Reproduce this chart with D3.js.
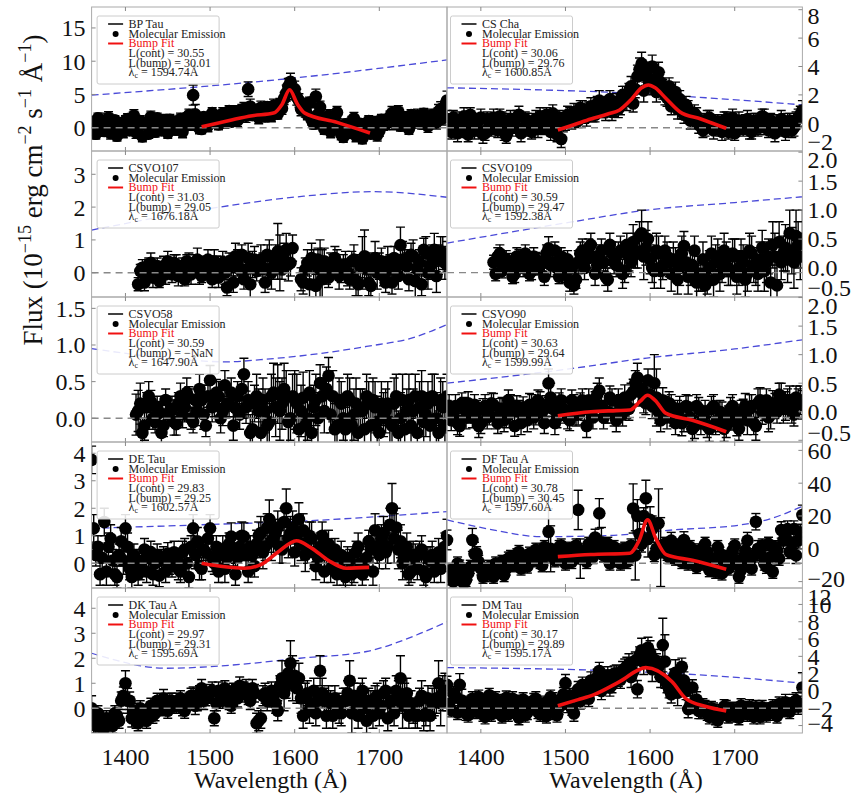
<!DOCTYPE html>
<html><head><meta charset="utf-8">
<script src="https://cdn.jsdelivr.net/npm/d3@7"></script>
<style>body{margin:0;background:#fff}svg{display:block}text{font-family:"Liberation Serif","Times New Roman",serif}</style>
</head><body><svg id="c" width="851" height="795"></svg>
<script>
// ---------------- DATA ----------------
const waves = [1360,1365,1370,1375,1380,1385,1390,1395,1400,1405,
1410,1415,1420,1425,1430,1435,1440,1445,1450,1455,
1460,1465,1470,1475,1480,1485,1490,1495,1500,1505,
1510,1515,1520,1525,1530,1535,1540,1545,1550,1555,
1560,1565,1570,1575,1580,1585,1590,1595,1600,1605,
1610,1615,1620,1625,1630,1635,1640,1645,1650,1655,
1660,1665,1670,1675,1680,1685,1690,1695,1700,1705,
1710,1715,1720,1725,1730,1735,1740,1745,1750,1755,
1760,1765,1770,1775,1780];
const wavesB = [1362.5,1367.5,1372.5,1377.5,1382.5,1387.5,1392.5,1397.5,1402.5,1407.5,
1412.5,1417.5,1422.5,1427.5,1432.5,1437.5,1442.5,1447.5,1452.5,1457.5,
1462.5,1467.5,1472.5,1477.5,1482.5,1487.5,1492.5,1497.5,1502.5,1507.5,
1512.5,1517.5,1522.5,1527.5,1532.5,1537.5,1542.5,1547.5,1552.5,1557.5,
1562.5,1567.5,1572.5,1577.5,1582.5,1587.5,1592.5,1597.5,1602.5,1607.5,
1612.5,1617.5,1622.5,1627.5,1632.5,1637.5,1642.5,1647.5,1652.5,1657.5,
1662.5,1667.5,1672.5,1677.5,1682.5,1687.5,1692.5,1697.5,1702.5,1707.5,
1712.5,1717.5,1722.5,1727.5,1732.5,1737.5,1742.5,1747.5,1752.5,1757.5,
1762.5,1767.5,1772.5,1777.5];
const xTicks = [1400,1500,1600,1700];

const bpTauFlux = [0.8,-0.9,1.2,-0.5,1.5,0.2,-1.2,0.6,1.0,-0.4,
1.8,0.3,-1.3,0.5,1.6,-0.6,0.2,1.1,-0.8,0.7,
-0.3,1.3,0.4,1.9,4.9,0.6,-0.2,1.2,0.8,1.7,
0.5,2.1,1.3,0.9,2.4,1.6,2.8,5.8,1.9,2.2,
3.0,1.7,2.6,3.3,2.1,2.9,5.2,6.9,5.8,4.1,
3.4,2.0,1.2,4.7,3.1,-0.2,1.8,0.7,2.3,-1.0,
0.5,-0.8,1.4,0.2,-1.6,0.3,-0.9,0.8,-0.5,0.4,
1.1,2.2,1.9,0.3,1.5,-0.2,1.0,1.8,0.6,1.3,
0.9,1.6,2.4,1.4,4.1];
const bpTauFluxB = [-0.3,1.4,0.1,0.9,-0.8,1.1,0.4,-0.6,1.3,0.2,
-0.7,1.0,0.6,-0.9,0.8,1.4,-0.4,0.3,1.2,-0.2,
0.9,-0.6,1.5,0.5,2.0,-0.1,1.6,0.3,2.2,1.0,
1.4,0.8,2.5,1.9,1.1,2.7,1.8,3.2,2.4,1.5,
2.3,3.1,1.8,2.7,3.6,4.4,6.2,5.5,4.6,2.8,
2.6,3.8,0.6,2.0,1.3,0.9,-0.6,1.5,0.2,-1.4,
-0.4,0.9,-1.2,0.6,-0.3,1.0,0.1,-1.1,1.2,0.5,
1.6,0.7,2.4,1.2,0.5,1.9,0.8,1.4,2.1,0.2,
1.9,0.8,2.8,3.1];
const bpTauErr = [0.9,0.8,1.0,0.8,0.9,0.7,0.8,0.9,0.8,0.7,
0.9,0.8,0.8,0.7,0.9,0.8,0.7,0.9,0.8,0.8,
0.8,0.9,0.7,0.9,1.5,0.8,0.7,0.9,0.8,0.9,
0.8,0.9,0.8,0.7,0.9,0.8,1.0,1.1,0.8,0.9,
1.0,0.8,0.9,1.0,0.8,0.9,1.2,1.3,1.2,1.0,
1.0,0.8,0.8,1.1,0.9,0.8,0.9,0.8,0.9,0.8,
0.8,0.8,0.9,0.7,0.8,0.8,0.7,0.9,0.8,0.8,
0.9,1.0,0.9,0.8,0.9,0.8,0.9,1.0,0.8,0.9,
0.9,1.0,1.1,1.0,1.4];

const csChaFlux = [0.3,-0.6,0.2,-0.3,0.5,-0.8,0.1,-0.4,0.4,-0.7,
0.0,0.4,-0.5,0.2,-0.9,0.3,-0.2,0.6,-0.4,0.1,
-0.6,0.3,0.5,-0.3,0.2,0.7,-0.8,-1.1,0.1,0.5,
0.8,0.2,1.0,0.4,1.2,0.6,1.6,1.0,1.3,0.8,
1.5,1.2,1.9,2.1,1.4,3.3,4.2,3.6,2.8,3.0,
3.6,2.4,1.8,1.2,2.2,1.7,0.6,1.0,0.3,0.5,
0.2,-0.3,0.4,-0.5,0.1,-0.6,0.3,-0.2,-0.7,0.2,
-0.4,0.3,-0.6,0.1,-0.3,0.4,-0.5,0.0,-0.4,0.3,
-0.6,0.2,-0.3,0.4,0.9];
const csChaFluxB = [-0.2,0.4,-0.7,0.1,-0.4,0.6,-0.5,0.2,-0.8,0.3,
-0.4,-0.1,0.5,-0.6,0.2,-0.3,0.4,-0.7,0.3,-0.2,
0.2,-0.4,-0.1,0.6,-0.6,0.1,0.4,0.0,0.6,0.2,
0.4,1.1,0.6,0.9,0.7,1.4,1.1,0.8,1.7,1.1,
1.0,2.0,1.6,2.6,2.4,3.8,2.3,3.2,4.0,2.2,
2.9,2.0,2.6,1.5,1.0,0.9,1.3,0.2,0.7,-0.1,
-0.5,0.3,-0.1,0.0,-0.4,0.2,-0.6,0.4,-0.3,-0.1,
0.1,-0.5,0.2,-0.3,0.5,-0.2,0.2,-0.7,0.1,-0.2,
0.1,-0.5,0.2,0.6];
const csChaErr = [0.6,0.5,0.6,0.5,0.6,0.5,0.6,0.5,0.6,0.5,
0.5,0.6,0.5,0.6,0.5,0.6,0.5,0.6,0.5,0.6,
0.5,0.6,0.6,0.5,0.6,0.6,0.5,0.6,0.6,0.6,
0.6,0.5,0.6,0.6,0.6,0.5,0.7,0.6,0.6,0.6,
0.6,0.6,0.7,0.7,0.6,0.8,0.8,0.7,0.8,0.7,
0.7,0.7,0.6,0.6,0.7,0.6,0.6,0.6,0.6,0.6,
0.5,0.6,0.5,0.6,0.5,0.6,0.5,0.6,0.5,0.6,
0.5,0.6,0.5,0.6,0.5,0.6,0.5,0.6,0.5,0.6,
0.6,0.5,0.6,0.6,0.7];

const csvo107Flux = [null,null,null,null,null,null,null,null,null,null,
null,-0.35,0.15,-0.1,0.3,0.05,-0.25,0.2,0.35,-0.05,
0.25,0.1,-0.2,0.3,0.15,0.4,-0.1,0.2,0.05,0.35,
-0.15,0.3,-0.45,0.2,0.5,0.1,-0.2,0.45,0.25,0.05,
0.4,-0.3,0.5,0.2,0.65,0.1,0.7,0.3,null,null,
-0.3,0.3,0.45,-0.4,0.1,0.35,-0.15,0.2,0.3,0.0,
0.25,-0.2,0.4,-0.35,0.3,0.1,-0.4,0.45,0.2,-0.1,
0.35,-0.3,0.15,0.84,0.3,-0.2,0.5,0.1,-0.35,0.6,
0.2,0.7,0.4,0.6,0.5];
const csvo107FluxB = [null,null,null,null,null,null,null,null,null,null,
null,0.05,-0.3,0.25,-0.15,0.2,0.1,-0.05,0.15,0.3,
-0.1,0.2,0.35,-0.05,0.3,0.0,0.25,0.4,-0.2,0.15,
0.2,0.0,0.35,-0.3,0.3,0.55,0.1,-0.35,0.4,0.2,
0.15,0.55,0.0,0.45,0.3,0.6,0.25,0.75,null,-0.2,
0.1,-0.35,0.25,0.4,-0.2,0.05,0.3,0.45,-0.1,0.25,
0.0,0.35,-0.25,0.2,0.5,-0.3,0.25,0.0,0.35,-0.3,
0.1,0.45,-0.1,0.4,0.2,0.55,-0.25,0.3,0.7,0.0,
0.45,-0.1,0.65,0.3];
const csvo107Err = [0,0,0,0,0,0,0,0,0,0,
0,0.2,0.25,0.2,0.3,0.25,0.2,0.3,0.3,0.25,
0.3,0.25,0.2,0.3,0.25,0.35,0.2,0.3,0.25,0.35,
0.3,0.35,0.25,0.3,0.4,0.3,0.3,0.45,0.4,0.3,
0.45,0.3,0.5,0.4,0.85,0.3,0.5,0.4,0,0.35,
0.35,0.4,0.45,0.35,0.9,0.4,0.3,0.35,0.4,0.3,
0.4,0.3,0.45,0.35,0.8,0.4,0.35,0.5,0.4,0.3,
0.45,0.35,0.4,0.55,0.4,0.35,0.5,0.4,0.35,0.5,
0.4,0.5,0.45,0.5,0.45];

const csvo109Flux = [null,null,null,null,null,null,null,null,null,null,
null,0.1,0.2,-0.05,0.15,0.05,-0.1,0.2,0.0,0.1,
-0.05,0.15,0.05,-0.15,0.34,0.1,0.0,0.2,-0.1,-0.25,
-0.3,0.1,0.3,0.15,0.4,-0.1,0.2,0.1,-0.2,0.25,
0.05,0.3,-0.05,0.2,0.45,0.25,0.6,0.35,0.15,-0.05,
0.25,0.05,0.2,-0.1,0.1,0.0,0.38,-0.15,0.05,-0.25,
-0.1,-0.3,0.0,-0.2,0.2,0.05,0.15,-0.05,0.2,0.0,
0.1,-0.1,0.25,0.0,0.15,-0.05,0.2,0.4,-0.3,0.1,
0.35,0.6,0.1,0.4,0.5];
const csvo109FluxB = [null,null,null,null,null,null,null,null,null,null,
null,-0.1,0.25,0.05,0.1,-0.15,0.2,0.05,0.25,-0.1,
0.2,0.0,0.1,0.25,0.05,0.3,-0.15,0.1,0.15,0.0,
-0.2,0.25,0.0,0.35,0.2,0.05,0.3,-0.15,0.4,0.1,
0.25,-0.1,0.4,0.1,0.3,0.55,0.2,0.5,0.0,0.3,
-0.05,0.3,0.1,0.15,-0.2,0.25,0.1,0.0,0.3,-0.1,
0.15,-0.2,0.25,0.1,-0.1,0.3,0.0,0.25,-0.15,0.2,
-0.2,0.3,0.05,-0.1,0.35,0.1,-0.25,0.2,0.45,0.25,
0.15,0.3,0.55,0.2];
const csvo109Err = [0,0,0,0,0,0,0,0,0,0,
0,0.12,0.15,0.12,0.15,0.12,0.15,0.12,0.15,0.12,
0.15,0.12,0.15,0.15,0.2,0.15,0.12,0.15,0.15,0.15,
0.15,0.2,0.2,0.15,0.2,0.2,0.2,0.15,0.2,0.2,
0.2,0.25,0.2,0.25,0.3,0.25,0.4,0.3,0.25,0.3,
0.3,0.25,0.25,0.3,0.25,0.3,0.25,0.3,0.25,0.3,
0.3,0.25,0.3,0.3,0.3,0.3,0.3,0.25,0.3,0.3,
0.3,0.3,0.3,0.3,0.3,0.35,0.3,0.4,0.35,0.3,
0.4,0.4,0.45,0.4,0.5];

const csvo58Flux = [null,null,null,null,null,null,null,null,null,null,
null,0.1,-0.2,0.15,0.23,-0.05,0.08,-0.1,0.05,0.12,
-0.08,0.3,0.15,0.28,-0.05,0.1,0.25,-0.1,0.52,0.2,
0.3,0.1,0.2,0.35,0.14,0.05,0.6,0.25,-0.15,0.3,
-0.2,0.1,-0.05,0.35,0.33,0.2,0.3,0.0,0.25,-0.15,
0.28,0.0,-0.2,0.25,0.48,0.1,0.58,0.3,-0.1,0.2,
-0.15,0.25,0.05,-0.2,0.1,0.3,-0.1,0.15,-0.2,0.05,
0.2,-0.1,0.3,0.0,-0.15,0.25,0.1,-0.2,0.3,0.05,
-0.1,0.25,-0.2,0.15,0.3];
const csvo58FluxB = [null,null,null,null,null,null,null,null,null,null,
0.05,0.2,-0.1,0.3,0.0,0.15,-0.2,0.25,0.1,-0.05,
0.2,0.05,0.35,0.0,0.25,0.4,0.05,0.3,0.15,0.35,
0.0,0.45,0.2,-0.1,0.3,0.4,0.15,-0.2,0.2,0.1,
0.25,-0.1,0.3,0.15,0.1,0.4,-0.05,0.3,0.2,0.1,
-0.1,0.35,0.15,0.0,0.3,0.4,0.05,-0.15,0.25,0.0,
0.3,-0.1,0.2,0.1,-0.15,0.2,0.25,-0.05,0.2,0.1,
-0.05,0.2,-0.2,0.25,0.1,-0.1,0.3,0.15,-0.05,0.2,
0.3,0.0,0.25,-0.1];
const csvo58Err = [0,0,0,0,0,0,0,0,0,0,
0.28,0.28,0.2,0.2,0.15,0.15,0.15,0.15,0.15,0.18,
0.15,0.18,0.2,0.15,0.15,0.2,0.2,0.15,0.2,0.18,
0.2,0.2,0.18,0.2,0.2,0.2,0.22,0.25,0.25,0.3,
0.3,0.3,0.3,0.4,0.4,0.35,0.35,0.3,0.4,0.35,
0.35,0.3,0.3,0.35,0.25,0.3,0.25,0.35,0.3,0.3,
0.3,0.3,0.35,0.3,0.3,0.3,0.3,0.35,0.3,0.3,
0.3,0.35,0.3,0.35,0.3,0.35,0.3,0.35,0.35,0.3,
0.3,0.35,0.3,0.35,0.3];

const csvo90Flux = [0.0,-0.15,0.1,-0.25,0.05,0.15,-0.1,0.0,-0.2,0.1,
-0.05,0.12,-0.2,0.05,-0.1,0.1,-0.25,0.0,0.08,-0.15,
0.1,-0.05,0.15,-0.2,0.5,0.05,-0.1,0.2,0.0,-0.15,
0.1,-0.05,0.2,-0.25,0.05,0.15,0.37,-0.1,0.0,0.2,
-0.15,0.1,0.25,0.05,0.35,0.6,0.4,0.15,0.3,0.5,
0.0,0.2,-0.1,0.1,-0.2,0.05,-0.15,0.08,-0.3,0.1,
-0.2,0.0,-0.3,0.1,-0.15,-0.05,-0.25,0.05,-0.1,-0.3,
0.0,-0.15,0.1,-0.25,0.2,0.05,-0.1,0.15,0.0,0.25,
0.1,0.2,-0.05,0.15,0.12];
const csvo90FluxB = [0.1,-0.05,-0.2,0.15,-0.1,0.0,0.12,-0.25,0.05,-0.1,
0.15,-0.1,0.05,-0.15,0.2,0.0,0.1,-0.2,-0.05,0.12,
-0.1,0.2,0.0,0.1,0.25,-0.2,0.15,0.05,-0.1,0.2,
-0.05,0.15,0.05,0.2,-0.1,0.3,0.1,0.0,0.25,-0.05,
0.2,-0.05,0.1,0.3,0.5,0.35,0.2,0.55,0.1,0.25,
-0.15,0.05,0.15,-0.05,0.0,-0.2,0.1,-0.1,-0.25,0.05,
-0.1,-0.25,0.05,-0.2,0.0,-0.3,-0.1,0.1,-0.2,0.0,
0.1,0.05,-0.2,0.15,0.0,0.2,-0.05,0.1,0.3,0.05,
0.15,0.05,0.25,0.2];
const csvo90Err = [0.2,0.18,0.2,0.18,0.2,0.2,0.18,0.2,0.18,0.2,
0.18,0.2,0.18,0.2,0.18,0.2,0.18,0.2,0.18,0.2,
0.2,0.18,0.2,0.18,0.25,0.2,0.18,0.2,0.2,0.18,
0.2,0.18,0.2,0.2,0.2,0.2,0.22,0.2,0.2,0.2,
0.2,0.2,0.22,0.2,0.22,0.25,0.22,0.2,0.22,0.5,
0.2,0.22,0.2,0.2,0.2,0.22,0.2,0.2,0.22,0.2,
0.2,0.2,0.22,0.2,0.2,0.22,0.2,0.2,0.22,0.2,
0.22,0.25,0.2,0.25,0.22,0.2,0.25,0.22,0.2,0.25,
0.25,0.25,0.2,0.25,0.25];

const deTauFlux = [3.76,0.3,-0.4,1.5,0.6,0.1,-0.5,0.8,1.27,-0.2,
0.3,-0.4,0.1,-0.3,0.4,0.0,-0.45,0.2,0.35,-0.1,
0.1,-0.3,0.5,-0.5,1.27,0.8,-0.2,0.4,1.27,0.0,
-0.3,0.5,0.2,0.97,-0.4,0.6,0.97,-0.3,0.3,0.7,
1.1,0.6,1.6,0.9,1.3,0.5,2.0,1.1,0.4,1.6,
1.2,0.5,0.9,-0.1,0.6,-0.3,0.7,0.2,-0.4,0.3,
-0.5,0.1,-0.3,0.6,-0.4,0.2,0.5,1.2,0.3,1.1,
0.6,2.0,1.3,0.8,0.2,-0.4,0.3,-0.2,0.5,-0.5,
0.1,-0.3,0.4,0.2,1.0];
const deTauFluxB = [1.27,0.6,0.2,-0.3,0.9,-0.4,0.3,0.1,0.6,-0.5,
0.1,-0.2,0.5,0.2,-0.4,0.3,0.1,-0.3,0.0,0.4,
-0.2,0.4,0.0,0.6,0.3,-0.1,0.5,0.9,0.2,0.6,
0.3,-0.2,0.7,0.4,0.2,1.0,0.3,0.6,-0.1,1.0,
0.4,1.3,0.8,1.1,0.6,1.5,0.9,1.3,1.0,0.7,
0.3,1.0,0.4,0.2,1.0,0.4,-0.2,0.5,0.0,-0.3,
0.2,-0.4,0.4,0.0,-0.2,0.8,-0.3,0.6,0.9,0.4,
1.4,0.9,0.5,0.0,0.6,-0.3,0.2,0.4,-0.3,0.2,
0.3,0.0,-0.2,0.6];
const deTauErr = [0.5,0.4,0.4,0.5,0.5,0.4,0.4,0.5,0.5,0.4,
0.4,0.4,0.4,0.4,0.4,0.4,0.4,0.4,0.4,0.4,
0.4,0.4,0.4,0.4,0.5,0.5,0.4,0.4,0.5,0.4,
0.4,0.5,0.4,0.5,0.4,0.5,0.5,0.4,0.4,0.5,
0.6,0.5,0.7,0.5,0.6,0.5,0.7,0.6,0.5,0.6,
0.6,0.5,0.6,0.5,0.5,0.4,0.5,0.4,0.4,0.5,
0.4,0.4,0.4,0.5,0.4,0.4,0.5,0.6,0.5,0.6,
0.6,0.9,0.7,0.6,0.5,0.4,0.5,0.4,0.5,0.4,
0.5,0.4,0.5,0.5,0.6];

const dfTauFlux = [5.4,-13,-18,-10.9,-21,-15,5.4,-2.7,-12,-16,
-11,-17,-14,-8,-12,-5,-9,-2,-7,-10.8,
-4,-0.6,-8,1,10.4,-3,-6,2,-9,0,
-5,23.7,-2,-8,1,6.9,21.6,-4,3,-7,
-2,-9,0,-6,24.6,20,3,30.8,17.6,-3.8,
15.5,1,-3,5,-6,0,5.4,-9,-2,-11,
-4,3,-13,-7,1,-15,-5,-10,2,-17,
-6,5,-12,16.5,-3,-9,3,-14,-1,11.5,
8,-2,12,5,20.6];
const dfTauFluxB = [-16,-20,-9,-14,-19,-11,-3,-8,-17,-13,
-15,-9,-12,-16,-6,-10,-4,-12,-6,-3,
-7,-2,-10,-4,0,-7,1,-5,-1,-8,
2,-6,-1,3,-5,0,4,-2,-9,1,
-5,-1,-8,2,-4,9,20,6,12,0,
-2,3,-5,-1,2,-8,-3,1,-6,-1,
-9,-2,-6,-14,-3,-8,-12,-1,-7,-13,
-1,-8,-4,0,2,-11,-5,1,-6,5,
12,3,-4,10];
const dfTauErr = [6,4,4,4,4,4,7,4,4,4,
4,4,4,4,4,4,4,4,4,4,
4,4,4,4,14,4,4,4,4,4,
4,12,4,4,4,5,9,4,4,4,
4,4,4,4,15,10,5,11,8,4,
21,4,4,5,4,4,5,4,4,4,
4,4,4,4,4,4,4,4,4,4,
4,5,4,5,4,4,4,4,4,5,
5,4,5,5,6];

const dkTauFlux = [0.0,-0.7,-0.4,-0.8,-0.5,-0.7,-0.3,0.3,1.0,0.3,
-0.1,-0.6,-0.3,-0.5,0.1,-0.2,0.2,0.4,-0.1,0.3,
0.1,0.4,-0.1,0.3,0.5,0.2,0.8,0.4,0.6,-0.4,
0.7,0.3,0.5,0.1,0.6,0.9,0.7,0.5,0.8,-0.6,
-0.4,0.6,0.4,0.5,-0.1,1.2,0.9,1.8,1.3,1.2,
-0.3,0.6,0.2,-0.2,1.5,0.3,0.4,-0.3,0.1,-0.2,
0.3,1.1,0.5,-0.3,0.7,-0.5,0.2,0.4,-0.2,0.6,
-0.4,0.3,0.7,1.2,0.4,-0.3,-0.1,-0.3,0.5,-0.2,
-0.3,0.3,1.0,0.6,0.5];
const dkTauFluxB = [-0.5,-0.2,-0.8,-0.4,-0.6,-0.2,-0.5,0.5,0.3,-0.4,
-0.5,0.0,-0.4,-0.2,-0.3,0.3,0.0,0.1,0.3,0.1,
0.3,0.0,0.2,0.5,0.1,0.6,0.3,0.5,0.7,0.2,
0.5,0.8,0.3,0.7,0.4,0.6,0.8,0.3,0.6,-0.5,
0.5,0.3,0.7,0.2,0.9,0.6,1.4,1.2,0.8,0.4,
0.5,-0.1,0.7,0.3,0.6,-0.3,0.2,0.4,-0.1,0.3,
0.6,-0.2,0.2,0.5,0.0,0.3,-0.3,0.5,0.1,0.7,
0.2,-0.2,0.5,0.1,0.6,0.2,-0.3,0.3,-0.3,0.4,
0.2,0.4,0.2,0.7];
const dkTauErr = [0.5,0.3,0.3,0.3,0.3,0.3,0.3,0.35,0.5,0.35,
0.3,0.3,0.3,0.3,0.3,0.3,0.3,0.35,0.3,0.3,
0.3,0.3,0.3,0.3,0.35,0.3,0.35,0.3,0.35,0.3,
0.35,0.3,0.35,0.3,0.35,0.35,0.35,0.35,0.35,0.4,
0.4,0.4,0.35,0.4,0.4,0.7,0.5,0.9,0.6,0.6,
0.5,0.5,0.5,0.5,0.6,0.5,0.5,0.5,0.5,0.5,
0.5,0.8,0.5,0.5,0.5,0.5,0.5,0.5,0.5,0.5,
0.5,0.5,0.6,0.9,0.6,0.5,0.5,0.5,0.6,0.5,
0.6,0.6,0.9,0.7,0.6];

const dmTauFlux = [0.7,-2.2,-0.6,0.7,-1.8,-2.8,-0.9,-2.4,-1.2,-3.0,
-0.5,-2.1,-1.5,-2.9,-0.8,-2.3,-1.6,-3.1,-1.0,-2.5,
-1.8,-0.9,-2.7,-1.4,-2.2,-1.0,-2.8,-1.3,0.9,-0.5,
-2.6,0.2,0.7,-0.4,1.2,0.4,2.3,1.0,1.8,0.7,
2.0,1.3,2.6,3.1,2.2,0.2,4.7,3.9,4.4,3.6,
2.8,5.3,0.8,-0.4,2.1,0.8,1.2,-2.1,0.4,-1.0,
-2.4,-1.9,-3.0,-2.2,-3.4,-2.6,-1.9,-2.8,-2.3,-3.1,
-2.0,-2.7,-2.4,-1.9,-3.0,-2.2,-2.6,-1.8,-2.9,-2.1,
-1.3,-2.4,-1.3,-1.8,0.4];
const dmTauFluxB = [-1.5,-0.3,-2.5,-1.1,-2.6,-1.4,-2.2,-0.7,-2.7,-1.6,
-2.7,-0.9,-2.4,-1.2,-2.7,-0.9,-2.0,-1.3,-2.8,-1.5,
-1.1,-2.4,-1.7,-2.9,-0.7,-2.5,-1.9,-0.4,-1.5,-2.0,
-0.6,-1.2,0.3,-0.9,0.6,1.6,0.0,1.5,0.4,2.0,
1.5,2.4,2.8,1.6,3.5,4.1,3.3,5.0,2.5,3.1,
1.6,3.4,0.2,1.5,-0.2,2.8,0.0,-1.6,-1.5,-2.3,
-1.7,-2.6,-2.0,-3.1,-2.4,-1.8,-2.9,-2.1,-2.7,-1.7,
-2.4,-1.8,-3.0,-2.5,-1.9,-2.8,-2.2,-2.6,-1.5,-2.2,
-2.0,-1.6,-1.1,-1.5];
const dmTauErr = [1.0,0.8,0.8,1.3,0.8,0.8,0.8,0.8,0.8,0.8,
0.8,0.8,0.8,0.8,0.8,0.8,0.8,0.8,0.8,0.8,
0.8,0.8,0.8,0.8,0.8,0.8,0.8,0.8,1.0,0.8,
0.9,0.9,0.9,0.9,1.0,0.9,1.0,0.9,1.0,0.9,
1.0,1.0,1.1,1.2,1.0,1.0,1.4,1.2,1.4,1.2,
1.2,3.1,1.0,1.0,1.5,1.0,1.0,1.0,0.9,0.9,
0.8,0.8,0.8,0.8,0.8,0.8,0.8,0.8,0.8,0.8,
0.8,0.8,0.8,0.8,0.8,0.8,0.8,0.8,0.8,0.8,
0.9,0.8,0.9,0.9,1.7];

// bump fits [wavelength, flux]
const bpTauBump = [[1490,0.15],[1510,0.7],[1530,1.3],[1550,1.8],[1575,2.2],[1585,3.5],[1594,5.7],[1603,3.6],[1612,2.2],[1650,0.8],[1689,-0.8]];
const csChaBump = [[1491,-0.47],[1510,-0.1],[1530,0.3],[1550,0.65],[1564,0.94],[1578,1.7],[1590,2.5],[1598,2.7],[1606,2.5],[1618,1.8],[1635,0.82],[1660,0.3],[1690,-0.35]];
const csvo90Bump = [[1491,-0.07],[1530,0.0],[1560,0.02],[1576,0.03],[1588,0.18],[1597,0.29],[1606,0.2],[1619,-0.03],[1650,-0.15],[1690,-0.35]];
const deTauBump = [[1490,0.0],[1515,-0.12],[1541,-0.18],[1560,-0.05],[1580,0.4],[1602,0.82],[1620,0.55],[1640,0.1],[1661,-0.18],[1688,-0.15]];
const dfTauBump = [[1491,-4.8],[1530,-3.5],[1576,-2.7],[1587,5],[1597,17.6],[1607,6],[1619,-3.6],[1650,-7],[1690,-12.5]];
const dmTauBump = [[1491,-1.7],[1515,-1.0],[1533,-0.46],[1564,1.07],[1595,2.7],[1626,1.07],[1642,-0.85],[1666,-1.8],[1690,-2.3]];

// continuum (blue dashed) [wavelength, flux]
const bpTauCont = [[1360,4.9],[1594,7.4],[1780,10.2]];
const csChaCont = [[1360,2.5],[1500,2.3],[1548,2.2],[1666,1.8],[1780,1.3]];
const csvo107Cont = [[1360,1.3],[1511,2.0],[1606,2.32],[1693,2.47],[1780,2.3]];
const csvo109Cont = [[1360,0.43],[1509,0.8],[1596,1.0],[1700,1.13],[1780,1.23]];
const csvo58Cont = [[1360,0.95],[1450,0.82],[1520,0.77],[1560,0.8],[1606,0.85],[1685,0.98],[1740,1.1],[1780,1.28]];
const csvo90Cont = [[1360,0.5],[1509,0.76],[1596,0.94],[1700,1.1],[1780,1.26]];
const deTauCont = [[1360,1.27],[1490,1.4],[1632,1.57],[1700,1.7],[1780,1.88]];
const dfTauCont = [[1360,17.6],[1420,11],[1470,7.4],[1548,8],[1627,11.5],[1706,14.5],[1740,18],[1779,25.7]];
const dkTauCont = [[1360,2.2],[1449,1.6],[1527,1.73],[1606,2.0],[1685,2.27],[1744,2.93],[1780,3.46]];
const dmTauCont = [[1360,2.7],[1590,2.2],[1668,1.8],[1780,0.9]];

const names = ["BP Tau","CS Cha","CSVO107","CSVO109","CSVO58","CSVO90","DE Tau","DF Tau A","DK Tau A","DM Tau"];
const lCont = ["30.55","30.06","31.03","30.59","30.59","30.63","29.83","30.78","29.97","30.17"];
const lBump = ["30.01","29.76","29.05","29.47","\u2212NaN","29.64","29.25","30.45","29.31","29.89"];
const lamC = ["1594.74","1600.85","1676.18","1592.38","1647.90","1599.99","1602.57","1597.60","1595.69","1595.17"];
const yDomains = [[-3.5,18.15],[-1.95,8.19],[-0.74,3.71],[-0.5,2.02],[-0.324,1.655],[-0.53,2.01],[-0.9,4.41],[-23.9,65.1],[-0.99,4.81],[-4.86,11.9]];
const yTicks = [[0,5,10,15],[-2,0,2,4,6,8],[0,1,2,3],[-0.5,0,0.5,1,1.5,2],[0,0.5,1,1.5],[-0.5,0,0.5,1,1.5,2],[0,1,2,3,4],[-20,0,20,40,60],[0,1,2,3,4],[-4,-2,0,2,4,6,8,10,12]];
const tickFmt = ["d","d","d",".1f",".1f",".1f","d","d","d","d"];
const baselines = [0,-0.31,0,-0.08,0,-0.1,0,-8.8,0,-2.0];

const fluxes = [bpTauFlux,csChaFlux,csvo107Flux,csvo109Flux,csvo58Flux,csvo90Flux,deTauFlux,dfTauFlux,dkTauFlux,dmTauFlux];
const fluxesB = [bpTauFluxB,csChaFluxB,csvo107FluxB,csvo109FluxB,csvo58FluxB,csvo90FluxB,deTauFluxB,dfTauFluxB,dkTauFluxB,dmTauFluxB];
const errs = [bpTauErr,csChaErr,csvo107Err,csvo109Err,csvo58Err,csvo90Err,deTauErr,dfTauErr,dkTauErr,dmTauErr];
const bumps = [bpTauBump,csChaBump,null,null,null,csvo90Bump,deTauBump,dfTauBump,null,dmTauBump];
const conts = [bpTauCont,csChaCont,csvo107Cont,csvo109Cont,csvo58Cont,csvo90Cont,deTauCont,dfTauCont,dkTauCont,dmTauCont];

// ---------------- LAYOUT ----------------
const svg = d3.select("#c");
const colX = [91.6, 447], panelW = 355.4;
const rowTop = [7,151,297,442,588], rowBot = [151,297,442,588,733];
const defs = svg.append("defs");
const minus = s => s.replace("-", "\u2212");

names.forEach((name, i) => {
  const col = i % 2, row = Math.floor(i / 2);
  const px = colX[col], py = rowTop[row], h = rowBot[row] - rowTop[row];
  const x = d3.scaleLinear().domain([1360, 1780]).range([0, panelW]);
  const y = d3.scaleLinear().domain(yDomains[i]).range([h, 0]);
  defs.append("clipPath").attr("id", "cp" + i).append("rect").attr("width", panelW).attr("height", h);
  defs.append("clipPath").attr("id", "cl" + i).append("rect").attr("x", -100).attr("width", panelW + 200).attr("height", h);
  const g = svg.append("g").attr("transform", `translate(${px},${py})`);
  const pg = g.append("g").attr("clip-path", `url(#cp${i})`);

  // continuum
  pg.append("path").datum(conts[i])
    .attr("d", d3.line().x(d => x(d[0])).y(d => y(d[1])).curve(d3.curveMonotoneX))
    .attr("fill", "none").attr("stroke", "#4a4ad8").attr("stroke-width", 1.3).attr("stroke-dasharray", "7,4");

  const ptsA = waves.map((w, k) => ({w, v: fluxes[i][k], e: errs[i][k]}));
  const ptsB = wavesB.map((w, k) => ({w, v: fluxesB[i][k], e: errs[i][k]}));
  const pts = ptsA.concat(ptsB).filter(d => d.v !== null);
  // error bars
  const eb = pg.append("g").attr("stroke", "#000").attr("stroke-width", 1.4);
  eb.selectAll("line.v").data(pts).join("line").attr("class", "v")
    .attr("x1", d => x(d.w)).attr("x2", d => x(d.w))
    .attr("y1", d => y(d.v - d.e)).attr("y2", d => y(d.v + d.e));
  eb.selectAll("line.t").data(pts).join("line").attr("class", "t")
    .attr("x1", d => x(d.w) - 4.5).attr("x2", d => x(d.w) + 4.5)
    .attr("y1", d => y(d.v + d.e)).attr("y2", d => y(d.v + d.e));
  eb.selectAll("line.b").data(pts).join("line").attr("class", "b")
    .attr("x1", d => x(d.w) - 4.5).attr("x2", d => x(d.w) + 4.5)
    .attr("y1", d => y(d.v - d.e)).attr("y2", d => y(d.v - d.e));
  pg.append("g").selectAll("circle").data(pts).join("circle")
    .attr("cx", d => x(d.w)).attr("cy", d => y(d.v)).attr("r", 6.3).attr("fill", "#000");

  // zero / baseline dashed
  pg.append("line").attr("x1", 0).attr("x2", panelW).attr("y1", y(baselines[i])).attr("y2", y(baselines[i]))
    .attr("stroke", "#888").attr("stroke-width", 1.4).attr("stroke-dasharray", "7,5");

  // bump fit
  if (bumps[i]) {
    pg.append("path").datum(bumps[i])
      .attr("d", d3.line().x(d => x(d[0])).y(d => y(d[1])).curve(d3.curveMonotoneX))
      .attr("fill", "none").attr("stroke", "#f01010").attr("stroke-width", 3.6);
  }

  // frame
  g.append("rect").attr("width", panelW).attr("height", h).attr("fill", "none").attr("stroke", "#aaa").attr("stroke-width", 1);
  xTicks.forEach(t => {
    g.append("line").attr("x1", x(t)).attr("x2", x(t)).attr("y1", h).attr("y2", h - 4).attr("stroke", "#888");
    g.append("line").attr("x1", x(t)).attr("x2", x(t)).attr("y1", 0).attr("y2", 4).attr("stroke", "#888");
  });
  // y ticks and labels (labels kept inside the panel band)
  const lg = g.append("g").attr("clip-path", `url(#cl${i})`);
  const fmt = d3.format(tickFmt[i]);
  yTicks[i].forEach(t => {
    const yy = y(t);
    const ly = Math.max(col === 0 ? 4 : 9, Math.min(h - 9, yy));
    if (col === 0) {
      if (yy >= 0 && yy <= h) lg.append("line").attr("x1", 0).attr("x2", 4).attr("y1", yy).attr("y2", yy).attr("stroke", "#888");
      lg.append("text").attr("x", -6).attr("y", ly).attr("dy", "0.35em").attr("text-anchor", "end")
        .attr("font-size", 24).attr("fill", "#111").text(minus(fmt(t)));
    } else {
      if (yy >= 0 && yy <= h) lg.append("line").attr("x1", panelW - 4).attr("x2", panelW).attr("y1", yy).attr("y2", yy).attr("stroke", "#888");
      lg.append("text").attr("x", panelW + 5).attr("y", ly).attr("dy", "0.35em").attr("text-anchor", "start")
        .attr("font-size", 24).attr("fill", "#111").text(minus(fmt(t)));
    }
  });

  // legend
  const lx = col === 0 ? 5.5 : 3.5, ly = 9;
  const leg = g.append("g").attr("transform", `translate(${lx},${ly})`);
  leg.append("rect").attr("width", 122).attr("height", 68).attr("fill", "#fff").attr("fill-opacity", 0.88)
    .attr("stroke", "#ccc").attr("stroke-width", 1).attr("rx", 2);
  const rows = [8, 18, 27.5, 37, 47, 56.5];
  leg.append("line").attr("x1", 11).attr("x2", 26).attr("y1", rows[0]).attr("y2", rows[0]).attr("stroke", "#111").attr("stroke-width", 1.6);
  leg.append("circle").attr("cx", 18.5).attr("cy", rows[1]).attr("r", 3).attr("fill", "#000");
  leg.append("line").attr("x1", 11).attr("x2", 26).attr("y1", rows[2]).attr("y2", rows[2]).attr("stroke", "#f01010").attr("stroke-width", 2);
  const tx = 31.5;
  const lt = (r, s, c) => leg.append("text").attr("x", tx).attr("y", rows[r]).attr("dy", "0.33em")
    .attr("font-size", 12).attr("fill", c || "#222").text(s);
  lt(0, name); lt(1, "Molecular Emission"); lt(2, "Bump Fit", "#f01010");
  lt(3, "L(cont) = " + lCont[i]); lt(4, "L(bump) = " + lBump[i]);
  const lam = leg.append("text").attr("x", tx).attr("y", rows[5]).attr("dy", "0.33em").attr("font-size", 12).attr("fill", "#222");
  lam.append("tspan").text("\u03bb");
  lam.append("tspan").attr("font-size", 8).attr("dy", 2).text("c");
  lam.append("tspan").attr("dy", -2).text(" = " + lamC[i] + "\u00c5");
});

// x tick labels and axis titles
colX.forEach(cx => {
  const x = d3.scaleLinear().domain([1360, 1780]).range([cx, cx + panelW]);
  xTicks.forEach(t => svg.append("text").attr("x", x(t)).attr("y", 765).attr("text-anchor", "middle")
    .attr("font-size", 24).attr("fill", "#111").text(t));
  svg.append("text").attr("x", cx + 179).attr("y", 788).attr("text-anchor", "middle")
    .attr("font-size", 24).attr("fill", "#111").text("Wavelength (\u00c5)");
});
const yl = svg.append("text").attr("transform", "translate(42,190) rotate(-90)").attr("text-anchor", "middle")
  .attr("font-size", 27).attr("fill", "#111");
yl.append("tspan").text("Flux (10");
yl.append("tspan").attr("font-size", 18).attr("dy", -11).text("\u221215");
yl.append("tspan").attr("dy", 11).text(" erg cm");
yl.append("tspan").attr("font-size", 18).attr("dy", -11).text("\u22122");
yl.append("tspan").attr("dy", 11).text(" s");
yl.append("tspan").attr("font-size", 18).attr("dy", -11).text("\u22121");
yl.append("tspan").attr("dy", 11).text(" \u00c5");
yl.append("tspan").attr("font-size", 18).attr("dy", -11).text("\u22121");
yl.append("tspan").attr("dy", 11).text(")");
</script></body></html>
